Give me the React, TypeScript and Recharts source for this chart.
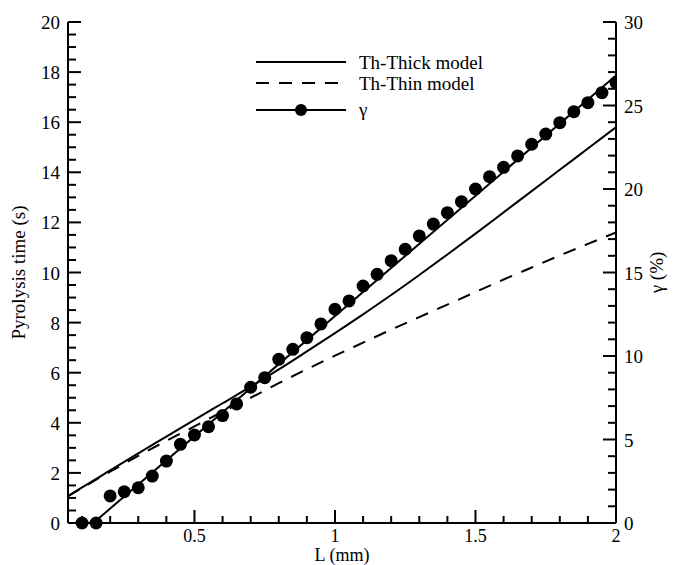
import React from "react";
import { ComposedChart, Line, Scatter, XAxis, YAxis, Legend } from "recharts";

// model curves (left axis, s)
const modelLengths = [0.05, 0.1, 0.2, 0.3, 0.4, 0.5, 0.6, 0.7, 0.8, 0.9, 1.0, 1.1, 1.2, 1.3, 1.4, 1.5, 1.6, 1.7, 1.8, 1.9, 2.0];
const thickTime = [1.07, 1.42, 2.1, 2.78, 3.45, 4.12, 4.78, 5.44, 6.13, 6.85, 7.58, 8.33, 9.1, 9.9, 10.72, 11.55, 12.4, 13.25, 14.1, 14.95, 15.8];
const thinTime = [1.07, 1.4, 2.05, 2.68, 3.28, 3.86, 4.44, 5.0, 5.58, 6.14, 6.68, 7.2, 7.72, 8.22, 8.72, 9.22, 9.72, 10.2, 10.68, 11.14, 11.6];

// gamma points (right axis, %)
const gammaLengths = [0.1, 0.15, 0.2, 0.25, 0.3, 0.35, 0.4, 0.45, 0.5, 0.55, 0.6, 0.65, 0.7, 0.75, 0.8, 0.85, 0.9, 0.95, 1.0, 1.05, 1.1, 1.15, 1.2, 1.25, 1.3, 1.35, 1.4, 1.45, 1.5, 1.55, 1.6, 1.65, 1.7, 1.75, 1.8, 1.85, 1.9, 1.95, 2.0];
const gammaValues = [0, 0, 1.62, 1.87, 2.11, 2.81, 3.71, 4.71, 5.27, 5.77, 6.43, 7.13, 8.13, 8.7, 9.8, 10.4, 11.1, 11.92, 12.8, 13.3, 14.19, 14.89, 15.71, 16.39, 17.19, 17.9, 18.58, 19.24, 20.0, 20.74, 21.3, 21.98, 22.68, 23.29, 23.97, 24.63, 25.17, 25.77, 26.37];
const gammaLineLengths = [0.14, 2.0];
const gammaLineValues = [0, 26.8];

const xMajor = [0.5, 1, 1.5, 2];
const xTicks = [0.1, 0.2, 0.3, 0.4, 0.5, 0.6, 0.7, 0.8, 0.9, 1, 1.1, 1.2, 1.3, 1.4, 1.5, 1.6, 1.7, 1.8, 1.9, 2];
const leftMajor = [0, 2, 4, 6, 8, 10, 12, 14, 16, 18, 20];
const rightMajor = [0, 5, 10, 15, 20, 25, 30];

const leftTicks: number[] = [];
for (let i = 0; i <= 40; i++) leftTicks.push(i * 0.5);
const rightTicks: number[] = [];
for (let i = 0; i <= 30; i++) rightTicks.push(i);

const thickData = modelLengths.map((L, i) => ({ L, t: thickTime[i] }));
const thinData = modelLengths.map((L, i) => ({ L, t: thinTime[i] }));
const gammaData = gammaLengths.map((L, i) => ({ L, g: gammaValues[i] }));
const gammaLine = gammaLineLengths.map((L, i) => ({ L, g: gammaLineValues[i] }));

const FONT = "'Liberation Serif', 'DejaVu Serif', serif";
const txt = { fontFamily: FONT, fontSize: 19, fill: "#000" };
const txtX = { fontFamily: FONT, fontSize: 18, fill: "#000" };

const isMajor = (v: number, list: number[]) => list.some((m) => Math.abs(m - v) < 1e-6);

const XTick = (props: any) => {
  const { x, y, payload } = props;
  const major = isMajor(payload.value, xMajor);
  return (
    <g>
      <line x1={x} y1={y} x2={x} y2={y - (major ? 13 : 7)} stroke="#000" strokeWidth={2} />
      {major && (
        <text x={x} y={y + 19} textAnchor="middle" fontFamily={FONT} style={txtX}>
          {payload.value}
        </text>
      )}
    </g>
  );
};

const LeftTick = (props: any) => {
  const { x, y, payload } = props;
  const major = isMajor(payload.value, leftMajor);
  return (
    <g>
      <line x1={x} y1={y} x2={x + (major ? 13 : 8)} y2={y} stroke="#000" strokeWidth={2} />
      {major && (
        <text x={x - 8} y={y + 7} textAnchor="end" fontFamily={FONT} style={txt}>
          {payload.value}
        </text>
      )}
    </g>
  );
};

const RightTick = (props: any) => {
  const { x, y, payload } = props;
  const major = isMajor(payload.value, rightMajor);
  return (
    <g>
      <line x1={x} y1={y} x2={x - (major ? 13 : 8)} y2={y} stroke="#000" strokeWidth={2} />
      {major && (
        <text x={x + 8} y={y + 7} textAnchor="start" fontFamily={FONT} style={txt}>
          {payload.value}
        </text>
      )}
    </g>
  );
};

const renderLegend = () => (
  <svg width={270} height={80} style={{ display: "block" }}>
    <line x1={6} y1={14} x2={96} y2={14} stroke="#000" strokeWidth={2} />
    <text x={109} y={20.5} fontFamily={FONT} style={txt}>Th-Thick model</text>
    <line x1={6} y1={35} x2={96} y2={35} stroke="#000" strokeWidth={2} strokeDasharray="13 10" />
    <text x={109} y={41.5} fontFamily={FONT} style={txt}>Th-Thin model</text>
    <line x1={6} y1={62} x2={96} y2={62} stroke="#000" strokeWidth={2} />
    <circle cx={51} cy={62} r={6} fill="#000" />
    <text x={109} y={67.5} fontFamily={FONT} style={txt}>γ</text>
  </svg>
);

const Dot = (props: any) => <circle cx={props.cx} cy={props.cy} r={6.5} fill="#000" />;

export default function App() {
  return (
    <div style={{ position: "absolute", left: 0, top: 0, background: "#fff", fontFamily: FONT }}>
      <ComposedChart width={679} height={565} margin={{ top: 22, right: 0, bottom: 0, left: 0 }}>
        <XAxis
          type="number"
          dataKey="L"
          domain={[0.05, 2]}
          ticks={xTicks}
          allowDataOverflow
          height={42}
          tickSize={0}
          tickMargin={0}
          tickLine={false}
          axisLine={{ stroke: "#000", strokeWidth: 2 }}
          tick={<XTick />}
          interval={0}
          label={{
            content: (p: any) => (
              <text x={p.viewBox.x + p.viewBox.width / 2} y={p.viewBox.y + 38} textAnchor="middle" fontFamily={FONT} style={txtX}>
                L (mm)
              </text>
            ),
          }}
        />
        <YAxis
          yAxisId="left"
          orientation="left"
          type="number"
          domain={[0, 20]}
          ticks={leftTicks}
          width={68}
          tickSize={0}
          tickMargin={0}
          tickLine={false}
          axisLine={{ stroke: "#000", strokeWidth: 2 }}
          tick={<LeftTick />}
          interval={0}
          label={{
            content: (p: any) => {
              const cx = p.viewBox.x + 18;
              const cy = p.viewBox.y + p.viewBox.height / 2;
              return (
                <text x={cx} y={cy} transform={`rotate(-90, ${cx}, ${cy})`} textAnchor="middle" dominantBaseline="central" fontFamily={FONT} style={txt}>
                  Pyrolysis time (s)
                </text>
              );
            },
          }}
        />
        <YAxis
          yAxisId="right"
          orientation="right"
          type="number"
          domain={[0, 30]}
          ticks={rightTicks}
          width={63}
          tickSize={0}
          tickMargin={0}
          tickLine={false}
          axisLine={{ stroke: "#000", strokeWidth: 2 }}
          tick={<RightTick />}
          interval={0}
          label={{
            content: (p: any) => {
              const cx = p.viewBox.x + 40;
              const cy = p.viewBox.y + p.viewBox.height / 2;
              return (
                <text x={cx} y={cy} transform={`rotate(-90, ${cx}, ${cy})`} textAnchor="middle" dominantBaseline="central" fontFamily={FONT} style={txt}>
                  γ (%)
                </text>
              );
            },
          }}
        />
        <Legend
          layout="horizontal"
          verticalAlign="middle"
          align="center"
          content={renderLegend}
          wrapperStyle={{ left: 250, top: 48, width: 270 }}
        />
        <Line yAxisId="left" data={thickData} dataKey="t" type="monotone" stroke="#000" strokeWidth={2} dot={false} isAnimationActive={false} />
        <Line yAxisId="left" data={thinData} dataKey="t" type="monotone" stroke="#000" strokeWidth={2} strokeDasharray="13 10" dot={false} isAnimationActive={false} />
        <Line yAxisId="right" data={gammaLine} dataKey="g" type="linear" stroke="#000" strokeWidth={2} dot={false} isAnimationActive={false} />
        <Scatter yAxisId="right" data={gammaData} dataKey="g" shape={<Dot />} isAnimationActive={false} />
      </ComposedChart>
    </div>
  );
}
